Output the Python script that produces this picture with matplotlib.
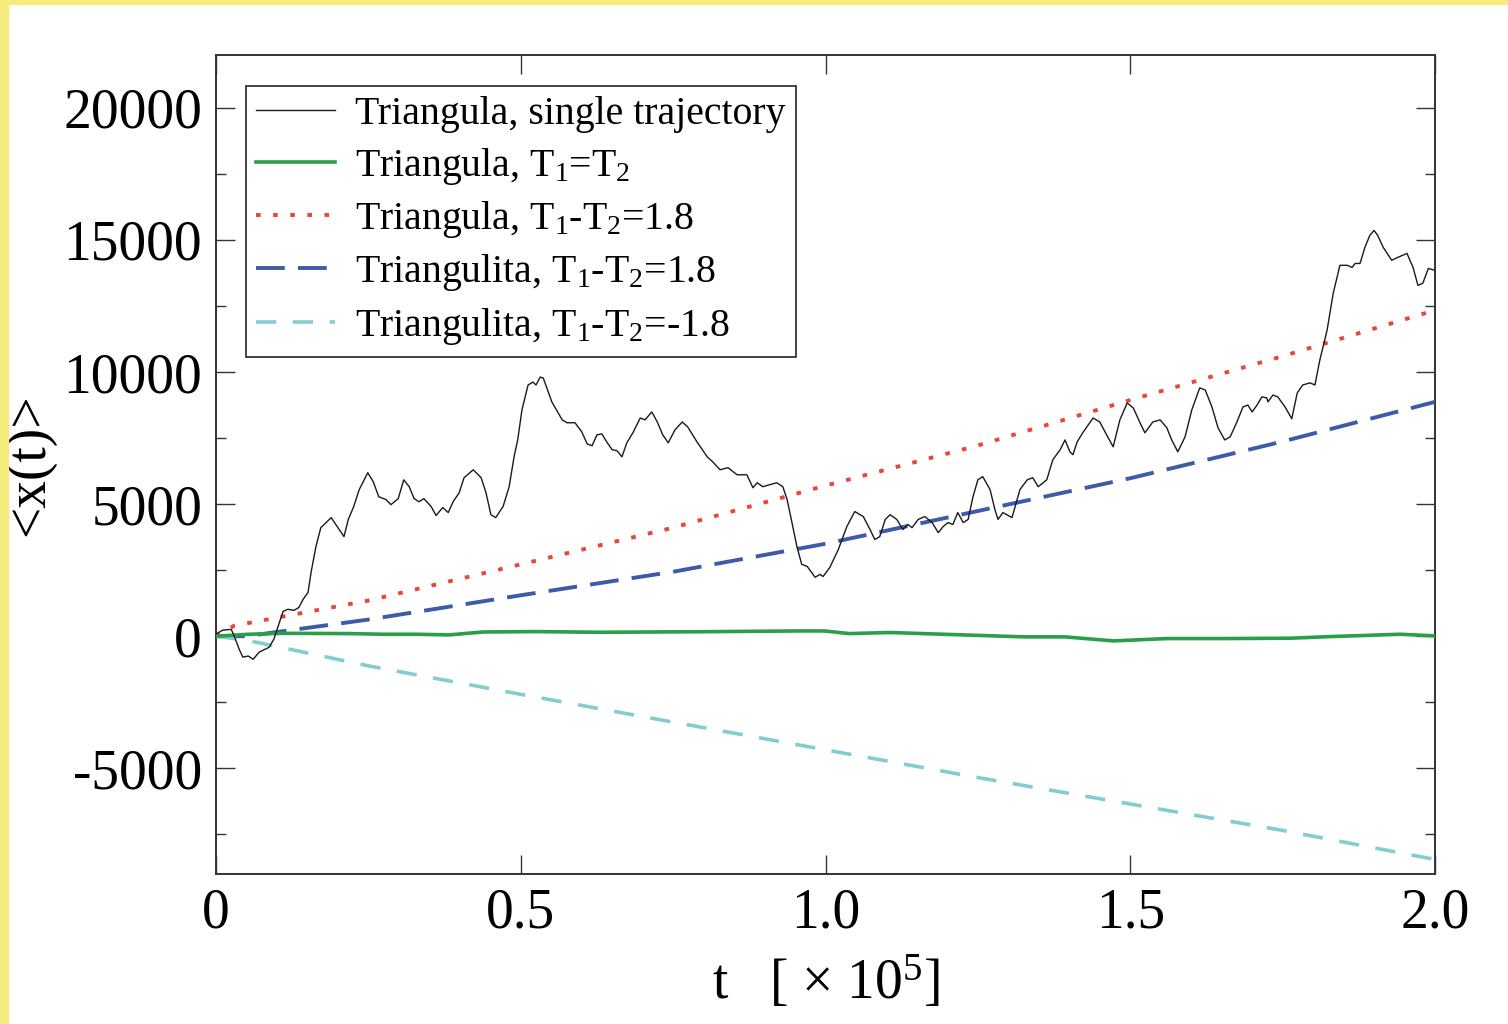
import numpy as np
import matplotlib
matplotlib.use("Agg")
import matplotlib.pyplot as plt
from matplotlib.patches import Rectangle
import matplotlib.ticker as ticker

# t in units of 1e5, <x(t)> values
traj_t = [0.000, 0.011, 0.025, 0.030, 0.038, 0.044, 0.053, 0.061, 0.071, 0.087,
          0.095, 0.102, 0.110, 0.118, 0.128, 0.136, 0.143, 0.151, 0.156, 0.164,
          0.172, 0.189, 0.200, 0.210, 0.217, 0.226, 0.235, 0.249, 0.258, 0.267,
          0.279, 0.287, 0.299, 0.308, 0.317, 0.325, 0.333, 0.341, 0.353, 0.361,
          0.372, 0.381, 0.389, 0.399, 0.407, 0.422, 0.435, 0.443, 0.451, 0.459,
          0.471, 0.481, 0.489, 0.495,
          0.502, 0.512, 0.520, 0.525, 0.532, 0.537, 0.551, 0.568, 0.576, 0.589,
          0.600, 0.609, 0.617, 0.625, 0.633, 0.642, 0.650, 0.658, 0.666, 0.674,
          0.684, 0.696, 0.704, 0.715, 0.724, 0.733, 0.742, 0.753, 0.765, 0.774,
          0.789, 0.806, 0.815, 0.827, 0.840, 0.855, 0.871, 0.881, 0.888, 0.897,
          0.909, 0.920, 0.930, 0.937, 0.945, 0.953, 0.961, 0.970, 0.983, 0.991,
          0.996, 1.007, 1.021, 1.035, 1.048, 1.062, 1.073, 1.081, 1.089, 1.098,
          1.106, 1.117, 1.127, 1.135, 1.142, 1.152, 1.163, 1.175, 1.185, 1.193,
          1.201, 1.209, 1.217, 1.226, 1.234, 1.242, 1.250, 1.258, 1.270, 1.278,
          1.283, 1.291, 1.306, 1.319, 1.331, 1.340, 1.349, 1.363, 1.373, 1.385,
          1.393, 1.401, 1.406, 1.413, 1.422, 1.431, 1.439, 1.450,
          1.462, 1.472, 1.483, 1.495, 1.505, 1.516, 1.524, 1.537, 1.549, 1.560,
          1.568, 1.578, 1.590, 1.601, 1.614, 1.623, 1.634, 1.644, 1.655, 1.664,
          1.675, 1.685, 1.693, 1.700, 1.708, 1.716, 1.724, 1.726, 1.734, 1.742,
          1.754, 1.765, 1.774, 1.783, 1.795, 1.803, 1.811, 1.823, 1.833, 1.844,
          1.856, 1.864, 1.869, 1.877, 1.885, 1.893, 1.900, 1.906, 1.915, 1.929,
          1.939, 1.954, 1.964, 1.972, 1.980, 1.989, 2.000]
traj_x = [80, 230, 260, 0, -490, -790, -750, -870, -600, -420,
          -110, 380, 940, 1020, 980, 1090, 1400, 1660, 2420, 3400,
          4110, 4490, 4110, 3770, 4420, 4910, 5550, 6190, 5850, 5280,
          5170, 4980, 5210, 5920, 5660, 5210, 5090, 5210, 4910, 4570,
          4870, 4680, 5090, 5430, 6000, 6300, 6000, 5430, 4600, 4490,
          4910, 5660, 6790, 7430,
          8570, 9510, 9620, 9510, 9810, 9770, 8870, 8190, 8080, 8080,
          7740, 7280, 7210, 7620, 7660, 7320, 7060, 7020, 6790, 7320,
          7700, 8260, 8190, 8490, 8110, 7620, 7320, 7810, 8110, 7920,
          7360, 6790, 6600, 6300, 6380, 6110, 6110, 5620, 5810, 5660,
          5740, 5810, 5660, 5170, 4300, 3400, 2720, 2640, 2230, 2340,
          2260, 2600, 3280, 4150, 4720, 4530, 4040, 3660, 3770, 4420,
          4600, 4420, 4040, 4230, 4110, 4420, 4530, 4300, 3920, 4150,
          4300, 4230, 4680, 4300, 4420, 5280, 5920, 6040, 5550, 4790,
          4420, 4680, 4490, 5550, 5920, 6000, 5660, 5920, 6680, 7060,
          7430, 6980, 6870, 7360, 7700, 8000, 8260, 8110,
          7590, 7170, 8190, 8830, 8640, 8080, 7700, 8110, 8190, 7890,
          7430, 6980, 7550, 8570, 9400, 9320, 8680, 7890, 7430, 7550,
          8110, 8680, 8750, 8490, 8750, 9060, 9020, 8870, 9130, 9060,
          8680, 8230, 9210, 9510, 9590, 9510, 10450, 11590, 12980, 14040,
          14040, 13960, 14110, 14110, 14720, 15170, 15360, 15170, 14720, 14230,
          14340, 14490, 13960, 13280, 13360, 13920, 13850]

eq_t = [0.0, 0.054, 0.11, 0.218, 0.274, 0.328, 0.382, 0.438, 0.525, 0.63,
        0.794, 0.958, 0.998, 1.039, 1.106, 1.226, 1.327, 1.393, 1.473, 1.56,
        1.662, 1.762, 1.829, 1.943, 2.0]
eq_x = [0, 75, 110, 100, 75, 75, 50, 160, 175, 150,
        170, 200, 200, 100, 140, 50, -25, -25, -177, -88,
        -88, -75, -13, 75, 13]

red_t = [0.0, 0.03, 0.25, 0.5, 0.75, 1.0, 1.25, 1.5, 1.75, 2.0]
red_x = [0, 400, 1350, 2720, 4110, 5700, 7220, 8940, 10600, 12340]

blue_t = [0.0, 0.05, 0.1, 0.25, 0.5, 0.75, 1.0, 1.25, 1.5, 1.75, 2.0]
blue_x = [0, 0, 160, 630, 1550, 2440, 3500, 4740, 5980, 7370, 8870]

cyan_t = [0.0, 0.05, 0.25, 0.5, 0.75, 1.0, 1.25, 1.5, 1.75, 2.0]
cyan_x = [0, -150, -1120, -2200, -3250, -4300, -5350, -6350, -7350, -8450]

labels = ['Triangula, single trajectory',
          r'Triangula, T$_1$=T$_2$',
          r'Triangula, T$_1$-T$_2$=1.8',
          r'Triangulita, T$_1$-T$_2$=1.8',
          r'Triangulita, T$_1$-T$_2$=-1.8']
colors = ['#1a1a1a', '#2a9e48', '#e8463b', '#3d5ba9', '#82cdd2']

assert len(traj_t) == len(traj_x)

plt.rcParams['font.family'] = ['Liberation Serif', 'DejaVu Serif']
plt.rcParams['mathtext.fontset'] = 'custom'
plt.rcParams['mathtext.rm'] = 'Liberation Serif'
plt.rcParams['mathtext.it'] = 'Liberation Serif:italic'

fig = plt.figure(figsize=(15.08, 10.24), dpi=100)
fig.patches.append(Rectangle((0, 0), 8 / 1508, 1, transform=fig.transFigure,
                             color='#f5ea7c', zorder=0))
fig.patches.append(Rectangle((0, 1 - 4 / 1024), 1, 4 / 1024, transform=fig.transFigure,
                             color='#f5ea7c', zorder=0))
ax = fig.add_axes([216 / 1508, 1 - 874 / 1024, (1435 - 216) / 1508, (874 - 55) / 1024])

ax.plot(traj_t, traj_x, color=colors[0], lw=1.0, label=labels[0], zorder=5)
ax.plot(eq_t, eq_x, color=colors[1], lw=2.6, label=labels[1], zorder=4)
ax.plot(red_t, red_x, color=colors[2], lw=2.8, linestyle=(0, (1.2, 3.2)), label=labels[2], zorder=3)
ax.plot(blue_t, blue_x, color=colors[3], lw=2.8, linestyle=(0, (7.4, 3.4)), label=labels[3], zorder=3)
ax.plot(cyan_t, cyan_x, color=colors[4], lw=2.6, linestyle=(0, (5.6, 4.6)), label=labels[4], zorder=3)

ax.set_xlim(0, 2.0)
ax.set_ylim(-9000, 22000)
ax.xaxis.set_major_locator(ticker.MultipleLocator(0.5))
ax.yaxis.set_major_locator(ticker.MultipleLocator(5000))
ax.yaxis.set_minor_locator(ticker.MultipleLocator(2500))
ax.xaxis.set_major_formatter(ticker.FuncFormatter(lambda v, p: '0' if v == 0 else '%.1f' % v))
ax.yaxis.set_major_formatter(ticker.FuncFormatter(lambda v, p: '%d' % v))
ax.tick_params(which='both', direction='in', top=True, right=True, width=1.0, color='#333333')
ax.tick_params(which='major', length=13.5, labelsize=40, pad=10)
ax.tick_params(which='minor', length=7)
for s in ax.spines.values():
    s.set_linewidth(1.4)
    s.set_color('#333333')

ax.set_xlabel(r't   [ $\times$ 10$^5$]', fontsize=40, labelpad=10)
ax.set_ylabel('<x(t)>', fontsize=40, labelpad=6)

leg = ax.legend(loc='upper left', bbox_to_anchor=(30 / 1219, 1 - 31 / 819), borderaxespad=0,
                fontsize=28.6, frameon=True, fancybox=False, framealpha=1,
                edgecolor='#222222', handlelength=1.98, handletextpad=0.5,
                labelspacing=0.31, borderpad=0.26)
leg.get_frame().set_linewidth(1.2)

fig.savefig('out.png', dpi=100)
